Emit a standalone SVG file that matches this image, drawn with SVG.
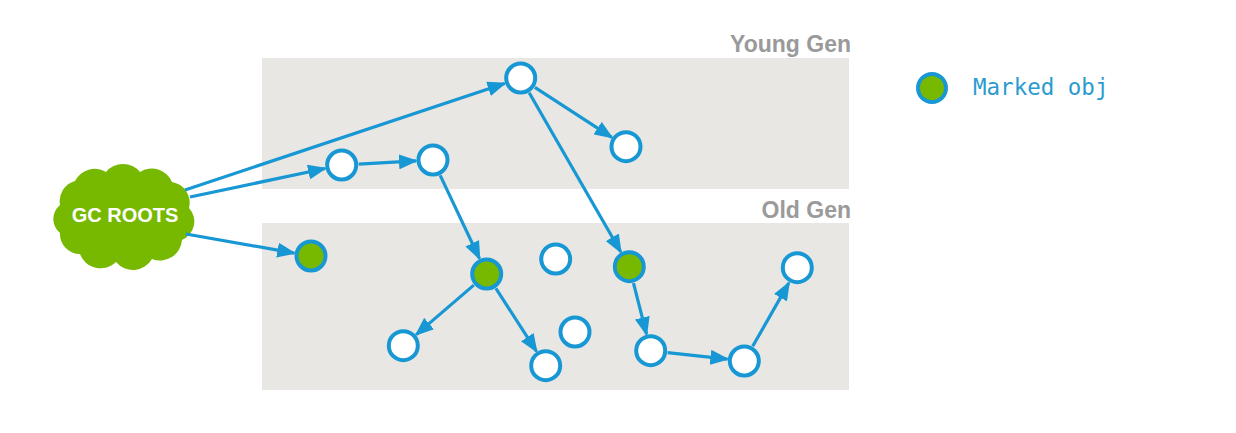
<svg xmlns="http://www.w3.org/2000/svg" width="1236" height="433" viewBox="0 0 1236 433">
<style>
.gen{fill:#e8e7e4}
.lbl{font-family:"Liberation Sans",Arial,sans-serif;font-weight:bold;font-size:23px;fill:#9a9a9a;text-anchor:end}
.obj{fill:#ffffff;stroke:#1797d3;stroke-width:4}
.mk{fill:#76b900;stroke:#1797d3;stroke-width:4}
.edge{stroke:#1797d3;stroke-width:3.2;fill:none;marker-end:url(#arr)}
.cloud{fill:#76b900}
.gc{font-family:"Liberation Sans",Arial,sans-serif;font-weight:bold;font-size:20px;fill:#ffffff;text-anchor:middle}
.leg{font-family:"DejaVu Sans Mono","Liberation Mono",monospace;font-size:22.5px;fill:#2a9bd0}
</style>
<defs>
<marker id="arr" markerUnits="userSpaceOnUse" markerWidth="19" markerHeight="15" refX="17" refY="7.5" orient="auto">
<path d="M0,0 L19,7.5 L0,15 z" fill="#1797d3"/>
</marker>
</defs>
<rect width="1236" height="433" fill="#ffffff"/>
<g id="young-gen">
<rect class="gen" x="262" y="58" width="587" height="131"/>
<text class="lbl" x="851" y="52">Young Gen</text>
</g>
<g id="old-gen">
<rect class="gen" x="262" y="223" width="587" height="167"/>
<text class="lbl" x="851" y="218">Old Gen</text>
</g>
<g id="gc-roots">
<path class="cloud" d="M60,205 A21,21 0 0 1 75,181 A22,22 0 0 1 106,172 A22,22 0 0 1 140,172 A22,22 0 0 1 172,182 A21,21 0 0 1 189,208 A20,20 0 0 1 182,240 A22,22 0 0 1 152,259 A22,22 0 0 1 116,262 A22,22 0 0 1 80,254 A20,20 0 0 1 60,233 A18,18 0 0 1 60,205 Z"/>
<text class="gc" x="125" y="222">GC ROOTS</text>
</g>
<g id="connectors">
<line class="edge" x1="185" y1="190" x2="504.6" y2="83.4"/>
<line class="edge" x1="190" y1="197" x2="325.1" y2="168.5"/>
<line class="edge" x1="186" y1="234" x2="294.3" y2="253.1"/>
<line class="edge" x1="358.7" y1="164.1" x2="416" y2="160.9"/>
<line class="edge" x1="534.9" y1="87.3" x2="611.8" y2="137.4"/>
<line class="edge" x1="529.2" y1="92.7" x2="620.8" y2="252"/>
<line class="edge" x1="440.2" y1="175.4" x2="479.5" y2="258.6"/>
<line class="edge" x1="473.8" y1="285.1" x2="416.2" y2="334.6"/>
<line class="edge" x1="495.9" y1="288.3" x2="536.5" y2="351.4"/>
<line class="edge" x1="633.5" y1="283.2" x2="646.5" y2="334.2"/>
<line class="edge" x1="667.6" y1="352.6" x2="727.4" y2="359.1"/>
<line class="edge" x1="752.7" y1="346.2" x2="788.9" y2="282.9"/>
</g>
<g id="obj-a"><circle class="obj" cx="520.7" cy="78" r="14.5"/></g>
<g id="obj-b"><circle class="obj" cx="626" cy="146.7" r="14.5"/></g>
<g id="obj-c"><circle class="obj" cx="341.7" cy="165" r="14.5"/></g>
<g id="obj-d"><circle class="obj" cx="433" cy="160" r="14.5"/></g>
<g id="obj-e"><circle class="mk" cx="311" cy="256" r="14.5"/></g>
<g id="obj-f"><circle class="mk" cx="486.7" cy="274" r="14.5"/></g>
<g id="obj-g"><circle class="obj" cx="555.7" cy="259" r="14.5"/></g>
<g id="obj-h"><circle class="mk" cx="629.3" cy="266.7" r="14.5"/></g>
<g id="obj-i"><circle class="obj" cx="797.3" cy="267.7" r="14.5"/></g>
<g id="obj-j"><circle class="obj" cx="403.3" cy="345.7" r="14.5"/></g>
<g id="obj-k"><circle class="obj" cx="545.7" cy="365.7" r="14.5"/></g>
<g id="obj-l"><circle class="obj" cx="575" cy="332" r="14.5"/></g>
<g id="obj-m"><circle class="obj" cx="650.7" cy="350.7" r="14.5"/></g>
<g id="obj-n"><circle class="obj" cx="744.3" cy="361" r="14.5"/></g>
<g id="legend">
<circle class="mk" cx="932" cy="88" r="14"/>
<text class="leg" x="973" y="95">Marked obj</text>
</g>
</svg>
